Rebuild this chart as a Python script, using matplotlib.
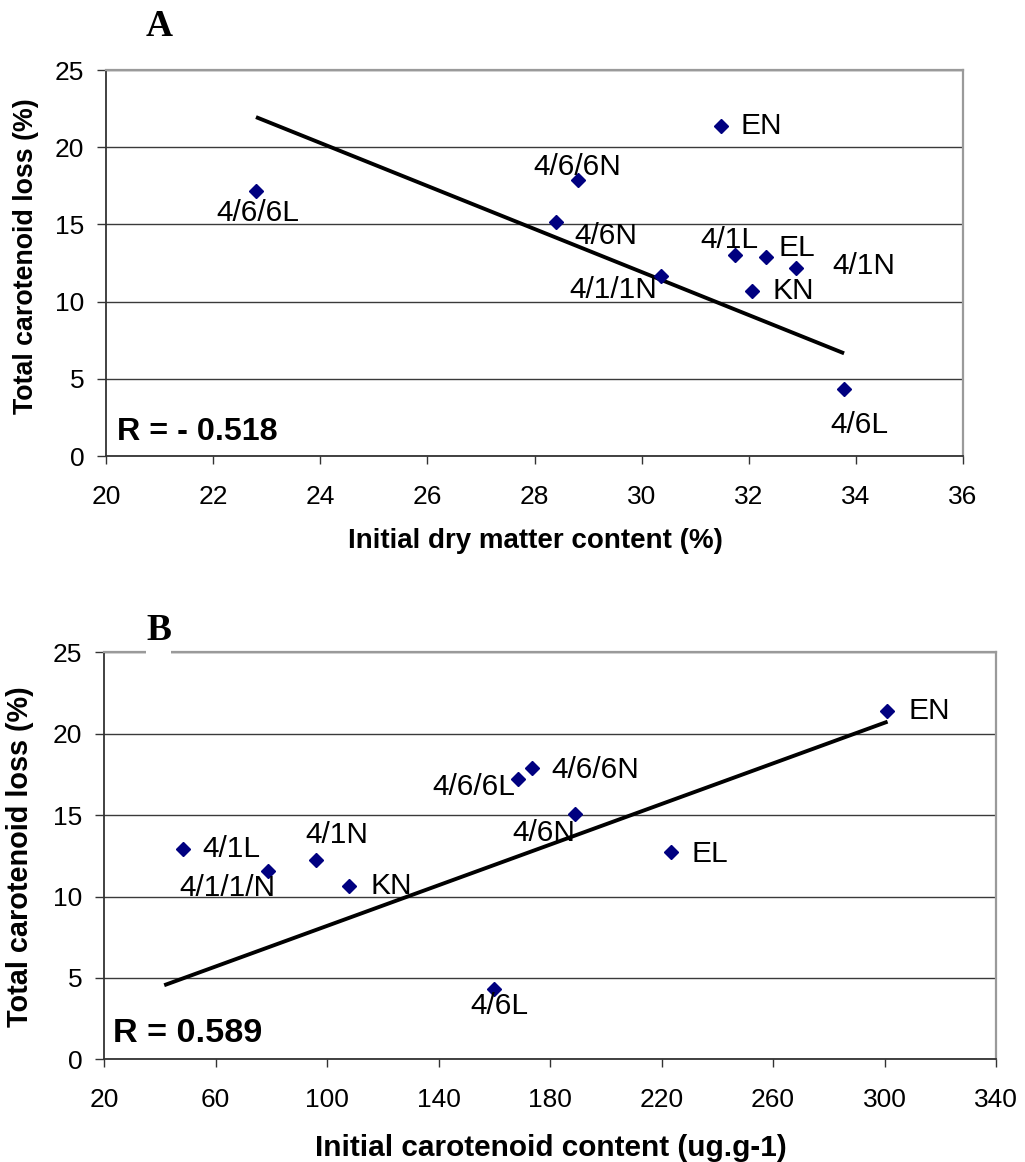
import matplotlib
matplotlib.use("Agg")
import matplotlib.pyplot as plt
from matplotlib.patches import Rectangle

plt.rcParams['font.family'] = ['Liberation Sans', 'DejaVu Sans']

# ---------------- data ----------------
labels_a = ["4/6/6L", "EN", "4/6/6N", "4/6N", "4/1/1N", "4/1L", "EL", "4/1N", "KN", "4/6L"]
dry_matter = [22.8, 31.48, 28.82, 28.40, 30.36, 31.75, 32.33, 32.88, 32.07, 33.78]
loss_a = [17.18, 21.39, 17.88, 15.18, 11.68, 13.04, 12.89, 12.20, 10.71, 4.36]
trend_a_x = [22.8, 33.78]
trend_a_y = [21.95, 6.65]
r_a = "R = - 0.518"

labels_b = ["4/1L", "4/1/1/N", "4/1N", "KN", "4/6L", "4/6/6L", "4/6/6N", "4/6N", "EL", "EN"]
carotenoid = [48.2, 78.9, 96.2, 108.0, 159.9, 168.6, 173.4, 189.0, 223.5, 301.0]
loss_b = [12.90, 11.57, 12.24, 10.65, 4.30, 17.20, 17.87, 15.07, 12.75, 21.38]
trend_b_x = [41.6, 301.1]
trend_b_y = [4.55, 20.74]
r_b = "R = 0.589"

xticks_a = [20, 22, 24, 26, 28, 30, 32, 34, 36]
xticks_b = [20, 60, 100, 140, 180, 220, 260, 300, 340]
yticks = [0, 5, 10, 15, 20, 25]

# label placement: (dx px, dy px, ha, va)  (dy positive = up)
place_a = [(2, -22, 'center', 'center'), (20, 0, 'left', 'center'),
           (-1, 13, 'center', 'center'), (50, -14, 'center', 'center'),
           (-48, -14, 'center', 'center'), (-6, 15, 'center', 'center'),
           (12, 9, 'left', 'center'), (36, 2, 'left', 'center'),
           (20, 0, 'left', 'center'), (15, -36, 'center', 'center')]
place_b = [(20, 0, 'left', 'center'), (-41, -17, 'center', 'center'),
           (20, 25, 'center', 'center'), (21, 0, 'left', 'center'),
           (5, -17, 'center', 'center'), (-3, -8, 'right', 'center'),
           (20, -2, 'left', 'center'), (0, -19, 'right', 'center'),
           (20, -2, 'left', 'center'), (21, 0, 'left', 'center')]

W, H = 1025, 1162
fig = plt.figure(figsize=(W / 100, H / 100), dpi=100)

def fx(px):
    return px / W

def fy(py):
    return 1 - py / H

NAVY = '#000080'

def style(ax, xticks, xlabel, xlsize, ylsize):
    ax.set_ylim(0, 25)
    ax.set_yticks(yticks)
    ax.set_xticks(xticks)
    ax.set_xlim(xticks[0], xticks[-1])
    ax.grid(axis='y', color='#3a3a3a', lw=1.0, zorder=0)
    ax.set_axisbelow(True)
    for s in ['left', 'bottom']:
        ax.spines[s].set_color('#333333')
        ax.spines[s].set_linewidth(1.3)
    for s in ['top', 'right']:
        ax.spines[s].set_color('#9a9a9a')
        ax.spines[s].set_linewidth(1.6)
    ax.tick_params(axis='x', direction='out', length=6, width=1.0, color='#333333',
                   labelsize=19, pad=15)
    ax.tick_params(axis='y', direction='out', length=6.5, width=1.0, color='#333333',
                   labelsize=19, pad=9)
    ax.set_ylabel("Total carotenoid loss (%)", fontsize=ylsize, fontweight='bold')
    ax.set_xlabel(xlabel, fontsize=xlsize, fontweight='bold')

# ---------- Panel A ----------
axA = fig.add_axes([fx(106), fy(456), fx(963) - fx(106), fy(70) - fy(456)])
style(axA, xticks_a, "Initial dry matter content (%)", 20, 19.3)
axA.plot(trend_a_x, trend_a_y, color='black', lw=2.8, zorder=2, solid_capstyle='butt')
axA.plot(dry_matter, loss_a, linestyle='none', marker='D', ms=7.3, color=NAVY, zorder=3)
for lab, x, y, (dx, dy, ha, va) in zip(labels_a, dry_matter, loss_a, place_a):
    axA.annotate(lab, (x, y), xytext=(dx, dy), textcoords='offset pixels',
                 ha=ha, va=va, fontsize=21.5, zorder=4)
fig.text(fx(117), fy(432), r_a, fontsize=23.2, fontweight='bold', ha='left', va='center')
axA.yaxis.set_label_coords((26 - 106) / 857, 0.517)
axA.xaxis.set_label_coords(0.5006, (456 - 541) / 386)
axA.xaxis.label.set_va('center')
axA.yaxis.label.set_va('center')

# ---------- Panel B ----------
axB = fig.add_axes([fx(104), fy(1059.3), fx(996) - fx(104), fy(652.3) - fy(1059.3)])
style(axB, xticks_b, "Initial carotenoid content (ug.g-1)", 21.4, 20.8)
axB.plot(trend_b_x, trend_b_y, color='black', lw=2.8, zorder=2, solid_capstyle='butt')
axB.plot(carotenoid, loss_b, linestyle='none', marker='D', ms=7.3, color=NAVY, zorder=3)
for lab, x, y, (dx, dy, ha, va) in zip(labels_b, carotenoid, loss_b, place_b):
    axB.annotate(lab, (x, y), xytext=(dx, dy), textcoords='offset pixels',
                 ha=ha, va=va, fontsize=21.5, zorder=4)
fig.text(fx(113), fy(1034), r_b, fontsize=24.7, fontweight='bold', ha='left', va='center')
axB.yaxis.set_label_coords((20 - 104) / 892, 0.498)
axB.xaxis.set_label_coords(0.501, (1059.3 - 1148) / 407)
axB.xaxis.label.set_va('center')
axB.yaxis.label.set_va('center')

# panel letters
fig.text(fx(159), fy(27), "A", family=['Liberation Serif', 'DejaVu Serif'],
         fontweight='bold', fontsize=27, ha='center', va='center')
fig.patches.append(Rectangle((fx(146), fy(658)), fx(25), fy(646) - fy(658),
                             transform=fig.transFigure, facecolor='white',
                             edgecolor='none', zorder=5))
fig.text(fx(159), fy(630), "B", family=['Liberation Serif', 'DejaVu Serif'],
         fontweight='bold', fontsize=27, ha='center', va='center', zorder=6)

fig.savefig("out.png", dpi=100, facecolor='white')
